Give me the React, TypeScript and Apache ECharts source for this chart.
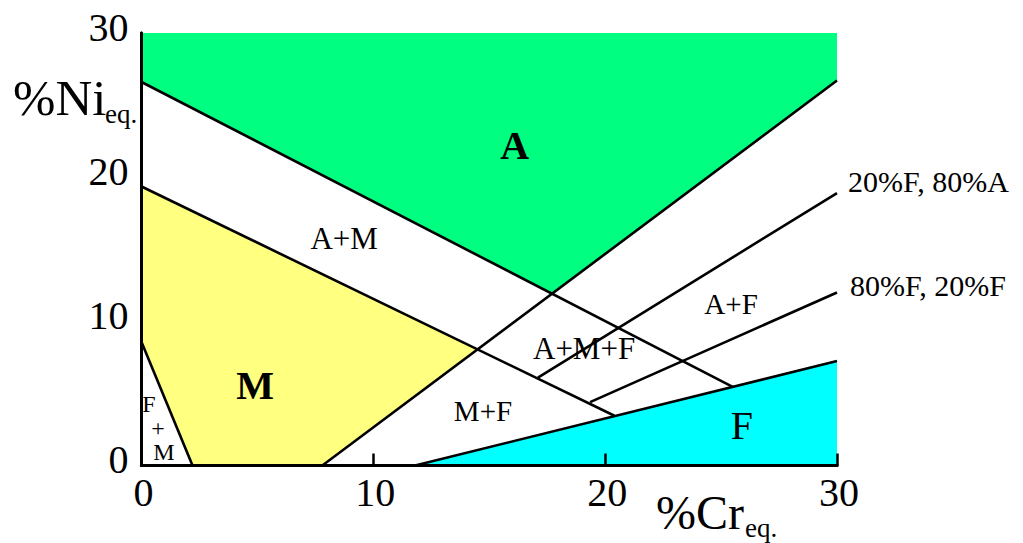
import React, { useEffect, useRef } from "react";
import * as echarts from "echarts";

// Schaeffler constitution diagram: %Cr equivalent (x) vs %Ni equivalent (y)
const crTicks = [0, 10, 20, 30];
const niTicks = [0, 10, 20, 30];

// Phase fields (Cr_eq, Ni_eq)
const austeniteField = [[0, 30], [30, 30], [30, 26.7], [17.71, 11.92], [0, 26.6]];
const martensiteField = [[0, 19.35], [14.5, 8.1], [7.8, 0], [2.2, 0], [0, 8.56]];
const ferriteField = [[11.8, 0], [30, 7.25], [30, 0]];

// Phase boundaries
const lineA_AM = [[0, 26.6], [25.5, 5.46]];
const lineM_AM = [[0, 19.35], [20.4, 3.45]];
const lineM_MF = [[7.8, 0], [30, 26.7]];
const lineFM_M = [[0, 8.56], [2.2, 0]];
const lineF = [[11.8, 0], [30, 7.25]];
const line20F = [[17.1, 6.1], [30, 18.9]];
const line80F = [[19.35, 4.4], [30, 12.0]];

// Phase field names and their anchor points (Cr_eq, Ni_eq)
const fieldNames = ["A", "M", "F", "A+M", "A+F", "A+M+F", "M+F", "F", "+", "M"];
const fieldCr = [16.1, 4.9, 25.9, 8.74, 25.43, 19.09, 14.73, 0.32, 0.71, 0.97];
const fieldNi = [22.2, 5.58, 2.74, 15.78, 11.2, 8.15, 3.78, 4.26, 2.6, 0.94];

const serif = "'Liberation Serif', 'Times New Roman', serif";

function fieldFont(name: string, i: number) {
  if (i < 2) return `bold 40px ${serif}`;
  if (i === 2) return `40px ${serif}`;
  if (i >= 7) return `24px ${serif}`;
  const size = name === "A+F" || name === "M+F" ? 29 : 31;
  return `${size}px ${serif}`;
}

function polygonSeries(points: number[][], color: string) {
  return {
    type: "custom",
    coordinateSystem: "cartesian2d",
    silent: true,
    z: 1,
    data: points,
    renderItem: (params: any, api: any) => {
      if (params.dataIndex !== 0) return null;
      return {
        type: "polygon",
        shape: { points: points.map((p) => api.coord(p)) },
        style: { fill: color, stroke: "none" },
      };
    },
  };
}

function boundarySeries(points: number[][]) {
  return {
    type: "line",
    data: points,
    showSymbol: false,
    silent: true,
    z: 3,
    lineStyle: { color: "#000", width: 2.6 },
  };
}

export default function App() {
  const ref = useRef<HTMLDivElement>(null);

  useEffect(() => {
    if (!ref.current) return;
    const chart = echarts.init(ref.current, undefined, { renderer: "svg" });

    const labelData = fieldNames.map((n, i) => [fieldCr[i], fieldNi[i], i]);

    const frameLine = { show: true, lineStyle: { color: "#000", width: 3 } };

    chart.setOption({
      animation: false,
      backgroundColor: "#fff",
      grid: { left: 141.5, top: 33, width: 695.5, height: 432.5 },
      xAxis: [
        {
          type: "value",
          min: crTicks[0],
          max: crTicks[crTicks.length - 1],
          interval: 10,
          z: 10,
          splitLine: { show: false },
          axisLine: frameLine,
          axisTick: { show: true, inside: true, length: 12, lineStyle: { color: "#000", width: 2.5 } },
          axisLabel: {
            fontFamily: serif,
            fontSize: 40,
            color: "#000",
            margin: 7,
            padding: [0, 0, 0, 4],
          },
        },
        {
          type: "value",
          position: "top",
          min: 0,
          max: 30,
          interval: 10,
          z: 10,
          splitLine: { show: false },
          axisLine: frameLine,
          axisTick: { show: false },
          axisLabel: { show: false },
        },
      ],
      yAxis: [
        {
          type: "value",
          min: niTicks[0],
          max: niTicks[niTicks.length - 1],
          interval: 10,
          z: 10,
          splitLine: { show: false },
          axisLine: frameLine,
          axisTick: { show: false },
          axisLabel: {
            fontFamily: serif,
            fontSize: 40,
            color: "#000",
            margin: 13,
            verticalAlign: "bottom",
            lineHeight: 12,
          },
        },
        {
          type: "value",
          position: "right",
          min: 0,
          max: 30,
          interval: 10,
          z: 10,
          splitLine: { show: false },
          axisLine: frameLine,
          axisTick: { show: false },
          axisLabel: { show: false },
        },
      ],
      series: [
        polygonSeries(austeniteField, "#00FF80"),
        polygonSeries(martensiteField, "#FFFF80"),
        polygonSeries(ferriteField, "#00FFFF"),
        boundarySeries(lineA_AM),
        boundarySeries(lineM_AM),
        boundarySeries(lineM_MF),
        boundarySeries(lineFM_M),
        boundarySeries(lineF),
        boundarySeries(line20F),
        boundarySeries(line80F),
        {
          type: "custom",
          coordinateSystem: "cartesian2d",
          silent: true,
          z: 5,
          data: labelData,
          renderItem: (params: any, api: any) => {
            const i = params.dataIndex;
            const pt = api.coord([api.value(0), api.value(1)]);
            return {
              type: "text",
              x: pt[0],
              y: pt[1],
              style: {
                text: fieldNames[i],
                font: fieldFont(fieldNames[i], i),
                fill: "#000",
                align: "center",
                verticalAlign: "middle",
              },
            };
          },
        },
      ],
      graphic: [
        {
          type: "text",
          left: 13,
          top: 72,
          style: { text: "%Ni", font: `51px ${serif}`, fill: "#000" },
        },
        {
          type: "text",
          left: 105,
          top: 100,
          style: { text: "eq.", font: `27px ${serif}`, fill: "#000" },
        },
        {
          type: "text",
          left: 656,
          top: 488,
          style: { text: "%Cr", font: `48px ${serif}`, fill: "#000" },
        },
        {
          type: "text",
          left: 745,
          top: 514,
          style: { text: "eq.", font: `27px ${serif}`, fill: "#000" },
        },
        {
          type: "text",
          left: 848,
          top: 166,
          style: { text: "20%F, 80%A", font: `30px ${serif}`, fill: "#000" },
        },
        {
          type: "text",
          left: 850,
          top: 270,
          style: { text: "80%F, 20%F", font: `30px ${serif}`, fill: "#000" },
        },
      ],
    });

    return () => chart.dispose();
  }, []);

  return (
    <div
      ref={ref}
      style={{ position: "fixed", left: 0, top: 0, width: 1023, height: 543, background: "#fff" }}
    />
  );
}
